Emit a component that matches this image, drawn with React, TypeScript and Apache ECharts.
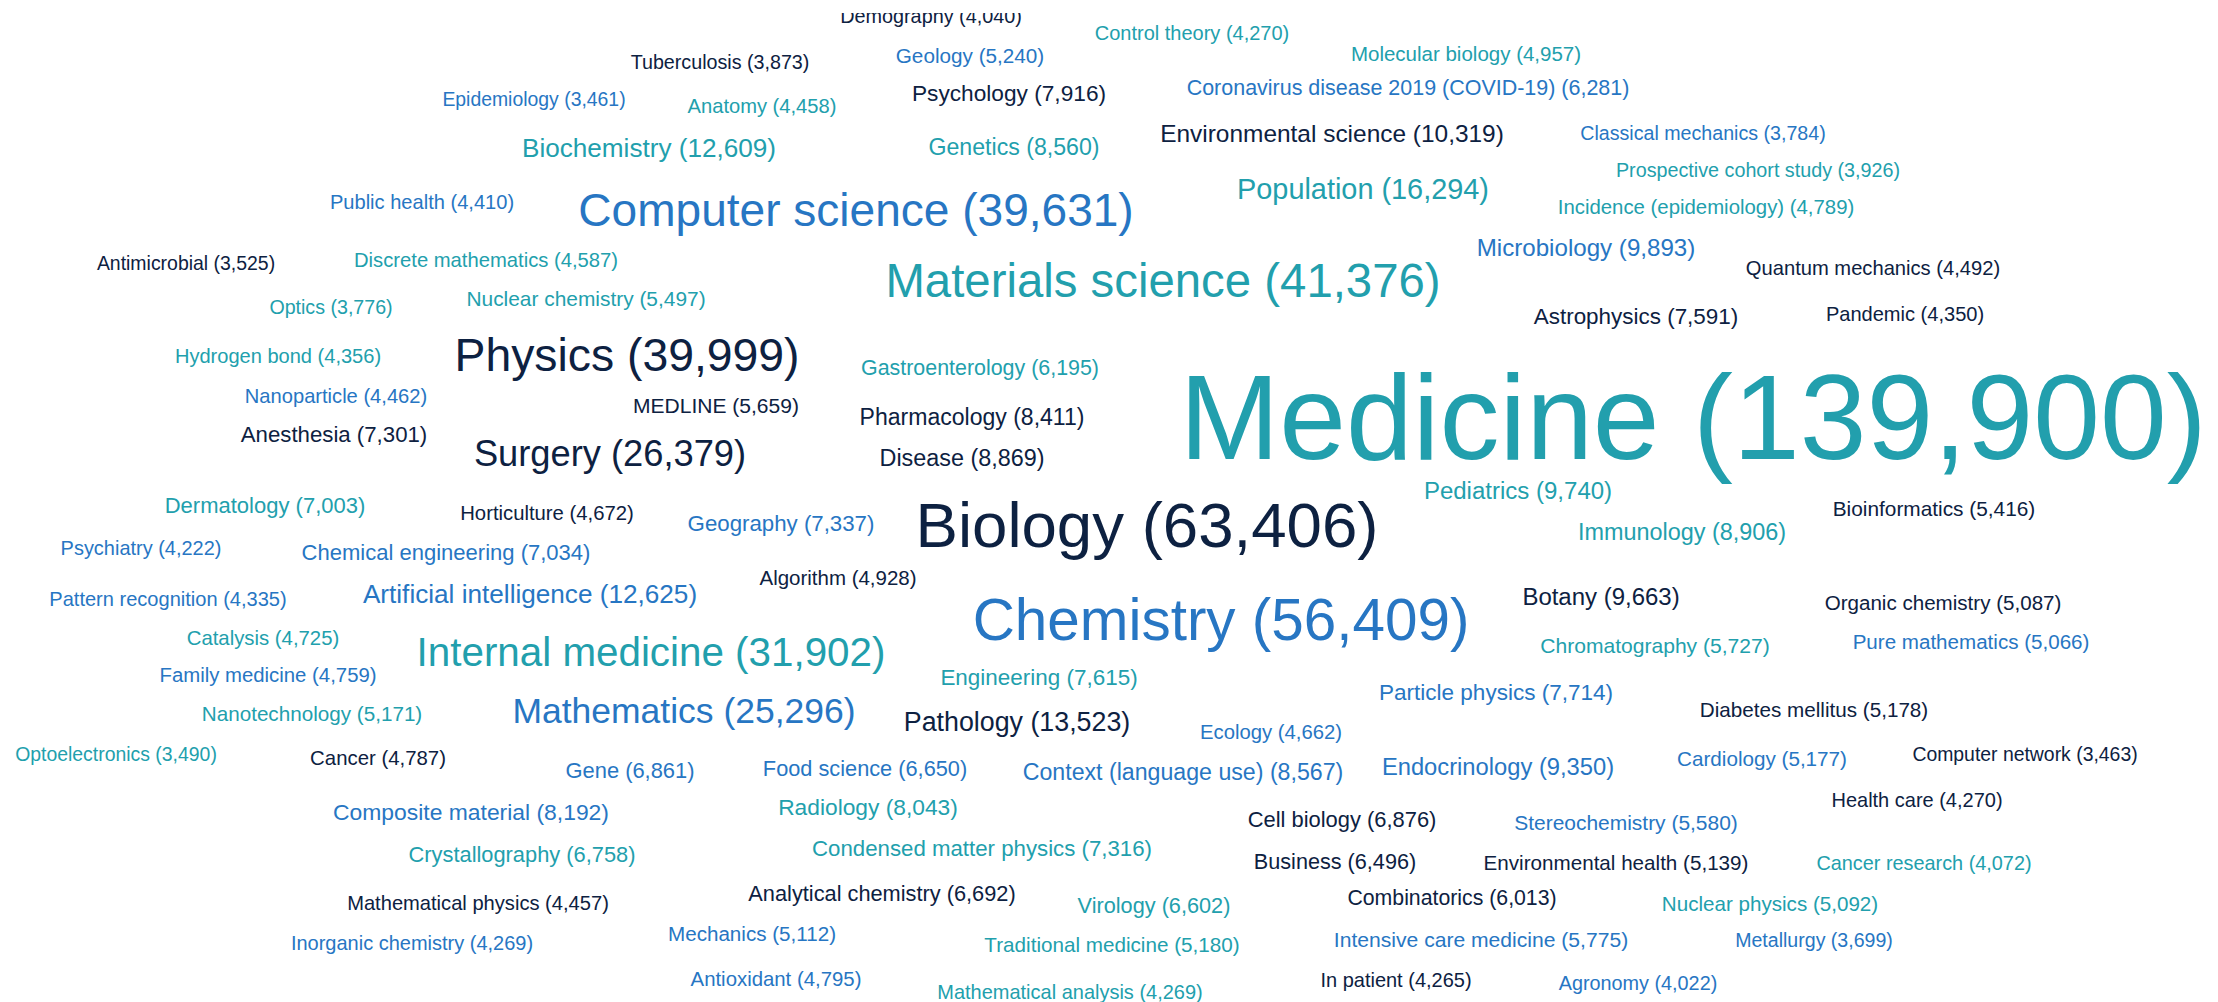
import React, { useEffect, useRef } from "react";
import * as echarts from "echarts";

// ---- data ----
const words: string[] = [
  "Demography", "Control theory", "Molecular biology", "Tuberculosis", "Geology", "Epidemiology",
  "Anatomy", "Psychology", "Coronavirus disease 2019 (COVID-19)", "Classical mechanics", "Biochemistry",
  "Genetics", "Environmental science", "Prospective cohort study", "Public health", "Computer science",
  "Population", "Incidence (epidemiology)", "Antimicrobial", "Discrete mathematics", "Materials science",
  "Microbiology", "Quantum mechanics", "Optics", "Nuclear chemistry", "Astrophysics", "Pandemic",
  "Hydrogen bond", "Physics", "Gastroenterology", "Medicine", "Nanoparticle", "MEDLINE", "Pharmacology",
  "Anesthesia", "Surgery", "Disease", "Pediatrics", "Dermatology", "Horticulture", "Biology",
  "Bioinformatics", "Psychiatry", "Chemical engineering", "Geography", "Immunology", "Pattern recognition",
  "Artificial intelligence", "Algorithm", "Catalysis", "Chemistry", "Botany", "Organic chemistry",
  "Internal medicine", "Family medicine", "Chromatography", "Pure mathematics", "Engineering",
  "Nanotechnology", "Mathematics", "Particle physics", "Diabetes mellitus", "Pathology", "Optoelectronics",
  "Cancer", "Ecology", "Gene", "Food science", "Context (language use)", "Endocrinology", "Cardiology",
  "Computer network", "Composite material", "Radiology", "Cell biology", "Stereochemistry", "Health care",
  "Crystallography", "Condensed matter physics", "Business", "Environmental health", "Cancer research",
  "Mathematical physics", "Analytical chemistry", "Virology", "Combinatorics", "Nuclear physics",
  "Inorganic chemistry", "Mechanics", "Traditional medicine", "Intensive care medicine", "Metallurgy",
  "Antioxidant", "Mathematical analysis", "In patient", "Agronomy",
];

const counts: number[] = [
  4040, 4270, 4957, 3873, 5240, 3461,
  4458, 7916, 6281, 3784, 12609,
  8560, 10319, 3926, 4410, 39631,
  16294, 4789, 3525, 4587, 41376,
  9893, 4492, 3776, 5497, 7591, 4350,
  4356, 39999, 6195, 139900, 4462, 5659, 8411,
  7301, 26379, 8869, 9740, 7003, 4672, 63406,
  5416, 4222, 7034, 7337, 8906, 4335,
  12625, 4928, 4725, 56409, 9663, 5087,
  31902, 4759, 5727, 5066, 7615,
  5171, 25296, 7714, 5178, 13523, 3490,
  4787, 4662, 6861, 6650, 8567, 9350, 5177,
  3463, 8192, 8043, 6876, 5580, 4270,
  6758, 7316, 6496, 5139, 4072,
  4457, 6692, 6602, 6013, 5092,
  4269, 5112, 5180, 5775, 3699,
  4795, 4269, 4265, 4022,
];

// colour group of each word: 0 navy, 1 blue, 2 teal
const groups: number[] = [
  0, 2, 2, 0, 1, 1,
  2, 0, 1, 1, 2,
  2, 0, 2, 1, 1,
  2, 2, 0, 2, 2,
  1, 0, 2, 2, 0, 0,
  2, 0, 2, 2, 1, 0, 0,
  0, 0, 0, 2, 2, 0, 0,
  0, 1, 1, 1, 2, 1,
  1, 0, 2, 1, 0, 0,
  2, 1, 2, 1, 2,
  2, 1, 1, 0, 0, 2,
  0, 1, 1, 1, 1, 1, 1,
  0, 1, 2, 0, 1, 0,
  2, 2, 0, 0, 2,
  0, 0, 2, 0, 2,
  1, 1, 2, 1, 1,
  1, 2, 0, 1,
];

// word-cloud layout (centre of each word, in layout units)
const layoutX: number[] = [
  931, 1192, 1466, 720, 970, 534,
  762, 1009, 1408, 1703, 649,
  1014, 1332, 1758, 422, 856,
  1363, 1706, 186, 486, 1163,
  1586, 1873, 331, 586, 1636, 1905,
  278, 627, 980, 1693, 336, 716, 972,
  334, 610, 962, 1518, 265, 547, 1147,
  1934, 141, 446, 781, 1682, 168,
  530, 838, 263, 1221, 1601, 1943,
  651, 268, 1655, 1971, 1039,
  312, 684, 1496, 1814, 1017, 116,
  378, 1271, 630, 865, 1183, 1498, 1762,
  2025, 471, 868, 1342, 1626, 1917,
  522, 982, 1335, 1616, 1924,
  478, 882, 1154, 1452, 1770,
  412, 752, 1112, 1481, 1814,
  776, 1070, 1396, 1638,
];

const layoutY: number[] = [
  16, 33, 53, 62, 55, 99,
  106, 93, 88, 133, 148,
  147, 133, 170, 202, 210,
  189, 207, 263, 260, 280,
  247, 268, 307, 298, 316, 314,
  356, 355, 368, 417, 396, 405, 417,
  434, 453, 458, 490, 505, 513, 524,
  508, 548, 552, 523, 532, 599,
  594, 577, 638, 619, 596, 602,
  652, 675, 645, 641, 677,
  713, 711, 692, 709, 722, 754,
  758, 732, 770, 768, 772, 767, 758,
  754, 812, 807, 819, 822, 800,
  854, 848, 861, 862, 863,
  903, 893, 905, 898, 903,
  943, 933, 944, 939, 940,
  979, 992, 980, 983,
];

// ---- styling ----
const PALETTE = ["#0d2141", "#2776c3", "#229fad"];
const MIN_FONT = 19.4;
const MAX_FONT = 120;
const FONT_FAMILY = "'Liberation Sans', Arial, Helvetica, sans-serif";
const W = 2218;
const H = 1002;

const minCount = Math.min(...counts);
const maxCount = Math.max(...counts);
const fontSizeOf = (v: number) =>
  MIN_FONT + ((v - minCount) / (maxCount - minCount)) * (MAX_FONT - MIN_FONT);

const labels = words.map((w, i) => `${w} (${counts[i].toLocaleString("en-US")})`);

export default function App() {
  const ref = useRef<HTMLDivElement | null>(null);

  useEffect(() => {
    if (!ref.current) return;
    const chart = echarts.init(ref.current, undefined, { renderer: "svg" });
    const data = words.map((_, i) => [layoutX[i], layoutY[i], counts[i]]);
    chart.setOption({
      animation: false,
      backgroundColor: "#ffffff",
      grid: { left: 0, right: 0, top: 0, bottom: 0 },
      xAxis: { type: "value", min: 0, max: W, show: false },
      yAxis: { type: "value", min: 0, max: H, inverse: true, show: false },
      series: [
        {
          type: "custom",
          coordinateSystem: "cartesian2d",
          data,
          clip: false,
          renderItem: (params: any, api: any) => {
            const i = params.dataIndex;
            const p = api.coord([api.value(0), api.value(1)]);
            return {
              type: "text",
              x: p[0],
              y: p[1],
              style: {
                text: labels[i],
                fontSize: fontSizeOf(api.value(2)),
                fontFamily: FONT_FAMILY,
                fill: PALETTE[groups[i]],
                align: "center",
                verticalAlign: "middle",
              },
            };
          },
        },
      ],
      graphic: [
        {
          type: "rect",
          z: 100,
          shape: { x: 0, y: 0, width: W, height: 13 },
          style: { fill: "#ffffff" },
        },
      ],
    });
    return () => chart.dispose();
  }, []);

  return (
    <div
      ref={ref}
      style={{ position: "absolute", left: 0, top: 0, width: W + "px", height: H + "px" }}
    />
  );
}
